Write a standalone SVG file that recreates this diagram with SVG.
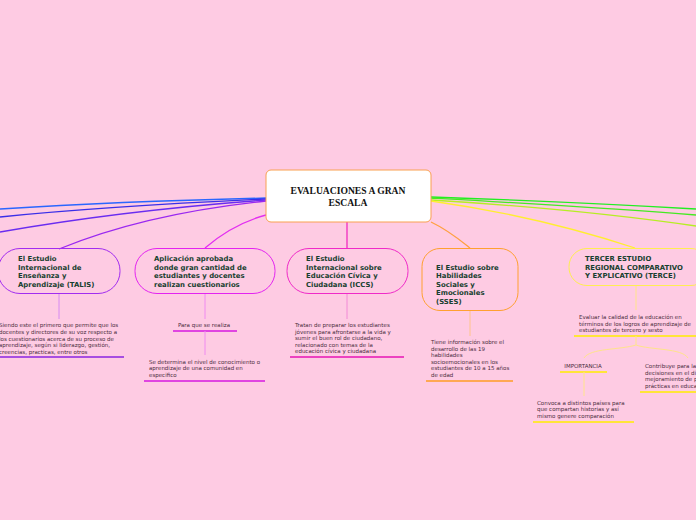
<svg xmlns="http://www.w3.org/2000/svg" width="696" height="520" viewBox="0 0 696 520">
<style>
.nt{font-family:"DejaVu Sans",Verdana,sans-serif;font-weight:bold;font-size:6.9px;fill:#17402f}
.st{font-family:"DejaVu Sans",Verdana,sans-serif;font-size:5.5px;fill:#4a2c3c}
.ct{font-family:"Liberation Serif","Times New Roman",serif;font-weight:bold;font-size:9.6px;fill:#111}
.ln{fill:none;stroke-width:1.3}
.pill{stroke-width:1}
</style>
<rect width="696" height="520" fill="#fecbe3"/>
<g id="connectors">
<path class="ln" d="M266,198 C180,200 80,204 0,209" stroke="#2a66ff"/>
<path class="ln" d="M266,199 C180,203 80,209 0,217" stroke="#3a2ee8"/>
<path class="ln" d="M266,200 C170,207 80,218 0,232" stroke="#6a2cf0"/>
<path class="ln" d="M266,201 C180,210 110,228 59,249" stroke="#9a28f0"/>
<path class="ln" d="M266,215 C240,222 220,235 205,248" stroke="#e22ef0"/>
<path class="ln" d="M347,222 L347,248" stroke="#f02cc0"/>
<path class="ln" d="M431,222 C448,230 460,240 470,248" stroke="#ffa040"/>
<path class="ln" d="M431,197 C520,200 610,204 696,209" stroke="#22ee22"/>
<path class="ln" d="M431,198 C520,203 610,208 696,215" stroke="#44ea22"/>
<path class="ln" d="M431,200 C530,206 620,215 696,226" stroke="#b6ee22"/>
<path class="ln" d="M431,201 C510,212 580,230 635,248" stroke="#ffee30"/>
<path d="M59,294 L59,319" stroke="#d68af2" stroke-width="1"/>
<path d="M0,357 L124,357" stroke="#8a24e0" stroke-width="1.5"/>
<path d="M205,293 L205,319" stroke="#f08af0" stroke-width="1"/>
<path d="M173,331 L237,331" stroke="#d618e0" stroke-width="1.5"/>
<path d="M205,331 L205,355" stroke="#f08af0" stroke-width="1"/>
<path d="M144,381 L265,381" stroke="#d618e0" stroke-width="1.5"/>
<path d="M347,293 L347,319" stroke="#f28ad6" stroke-width="1"/>
<path d="M290,357 L404,357" stroke="#e614b4" stroke-width="1.5"/>
<path d="M470,310 L470,336" stroke="#ffc48a" stroke-width="1"/>
<path d="M426,381 L513,381" stroke="#ff9c24" stroke-width="1.5"/>
<path d="M636,285 L636,310" stroke="#ffe48a" stroke-width="1"/>
<path d="M574,336 L696,336" stroke="#ffee00" stroke-width="1.5"/>
<path d="M636,336 L636,345 C620,350 590,348 584,358" fill="none" stroke="#ffe48a" stroke-width="1"/>
<path d="M636,345 C650,350 682,348 688,358" fill="none" stroke="#ffe48a" stroke-width="1"/>
<path d="M560,372 L607,372" stroke="#ffee00" stroke-width="1.5"/>
<path d="M584,372 L584,396" stroke="#ffe48a" stroke-width="1"/>
<path d="M533,422 L634,422" stroke="#ffee00" stroke-width="1.5"/>
<path d="M640,392 L696,392" stroke="#ffee00" stroke-width="1.5"/>
</g>
<g id="center">
<rect x="266" y="170" width="165" height="52" rx="5" fill="#ffffff" stroke="#f9a050" stroke-width="1"/>
<text class="ct" x="348" y="194" text-anchor="middle">EVALUACIONES A GRAN</text>
<text class="ct" x="348" y="206" text-anchor="middle">ESCALA</text>
</g>
<g id="talis">
<rect class="pill" x="-2" y="248.5" width="122" height="45" rx="22" fill="none" stroke="#a22cf0"/>
<text class="nt" x="18" y="261">El Estudio</text>
<text class="nt" x="18" y="270">Internacional de</text>
<text class="nt" x="18" y="278">Enseñanza y</text>
<text class="nt" x="18" y="287">Aprendizaje (TALIS)</text>
</g>
<g id="talis-desc">
<text class="st" x="-1" y="327">Siendo este el primero que permite que los</text>
<text class="st" x="-1" y="334">docentes y directores de su voz respecto a</text>
<text class="st" x="-1" y="341">los cuestionarios acerca de su proceso de</text>
<text class="st" x="-1" y="347">aprendizaje, según si liderazgo, gestión,</text>
<text class="st" x="-1" y="354">creencias, practicas, entre otros</text>
</g>
<g id="aplicacion">
<rect class="pill" x="135" y="248.5" width="140" height="45" rx="22" fill="none" stroke="#e424f0"/>
<text class="nt" x="154" y="261">Aplicación aprobada</text>
<text class="nt" x="154" y="270">donde gran cantidad de</text>
<text class="nt" x="154" y="278">estudiantes y docentes</text>
<text class="nt" x="154" y="287">realizan cuestionarios</text>
</g>
<g id="para-que">
<text class="st" x="204" y="327" text-anchor="middle">Para que se realiza</text>
</g>
<g id="se-determina">
<text class="st" x="149" y="364">Se determina el nivel de conocimiento o</text>
<text class="st" x="149" y="370">aprendizaje de una comunidad en</text>
<text class="st" x="149" y="377">especifico</text>
</g>
<g id="iccs">
<rect class="pill" x="287" y="248.5" width="121" height="45" rx="22" fill="none" stroke="#f02ac8"/>
<text class="nt" x="306" y="261">El Estudio</text>
<text class="nt" x="306" y="270">Internacional sobre</text>
<text class="nt" x="306" y="278">Educación Cívica y</text>
<text class="nt" x="306" y="287">Ciudadana (ICCS)</text>
</g>
<g id="iccs-desc">
<text class="st" x="295" y="327">Tratan de preparar los estudiantes</text>
<text class="st" x="295" y="334">jóvenes para afrontarse a la vida y</text>
<text class="st" x="295" y="340">sumir el buen rol de ciudadano,</text>
<text class="st" x="295" y="347">relacionado con temas de la</text>
<text class="st" x="295" y="353">educación cívica y ciudadana</text>
</g>
<g id="sses">
<rect class="pill" x="422" y="248.5" width="96" height="62" rx="18" fill="none" stroke="#ffa030"/>
<text class="nt" x="436" y="270">El Estudio sobre</text>
<text class="nt" x="436" y="278">Habilidades</text>
<text class="nt" x="436" y="287">Sociales y</text>
<text class="nt" x="436" y="295">Emocionales</text>
<text class="nt" x="436" y="304">(SSES)</text>
</g>
<g id="sses-desc">
<text class="st" x="431" y="344">Tiene información sobre el</text>
<text class="st" x="431" y="351">desarrollo de las 19</text>
<text class="st" x="431" y="357">habilidades</text>
<text class="st" x="431" y="364">socioemocionales en los</text>
<text class="st" x="431" y="370">estudiantes de 10 a 15 años</text>
<text class="st" x="431" y="377">de edad</text>
</g>
<g id="terce">
<rect class="pill" x="569" y="248.5" width="140" height="37" rx="18" fill="none" stroke="#ffee50"/>
<text class="nt" x="585" y="261">TERCER ESTUDIO</text>
<text class="nt" x="585" y="270">REGIONAL COMPARATIVO</text>
<text class="nt" x="585" y="278">Y EXPLICATIVO (TERCE)</text>
</g>
<g id="terce-desc">
<text class="st" x="579" y="319">Evaluar la calidad de la educación en</text>
<text class="st" x="579" y="326">términos de los logros de aprendizaje de</text>
<text class="st" x="579" y="332">estudiantes de tercero y sesto</text>
</g>
<g id="importancia">
<text class="st" x="583" y="368" text-anchor="middle">IMPORTANCIA</text>
</g>
<g id="convoca">
<text class="st" x="537" y="405">Convoca a distintos países para</text>
<text class="st" x="537" y="411">que compartan historias y así</text>
<text class="st" x="537" y="418">mismo genere comparación</text>
</g>
<g id="contribuye">
<text class="st" x="645" y="368">Contribuye para la</text>
<text class="st" x="645" y="375">decisiones en el di</text>
<text class="st" x="645" y="381">mejoramiento de p</text>
<text class="st" x="645" y="388">prácticas en educa</text>
</g>
</svg>
